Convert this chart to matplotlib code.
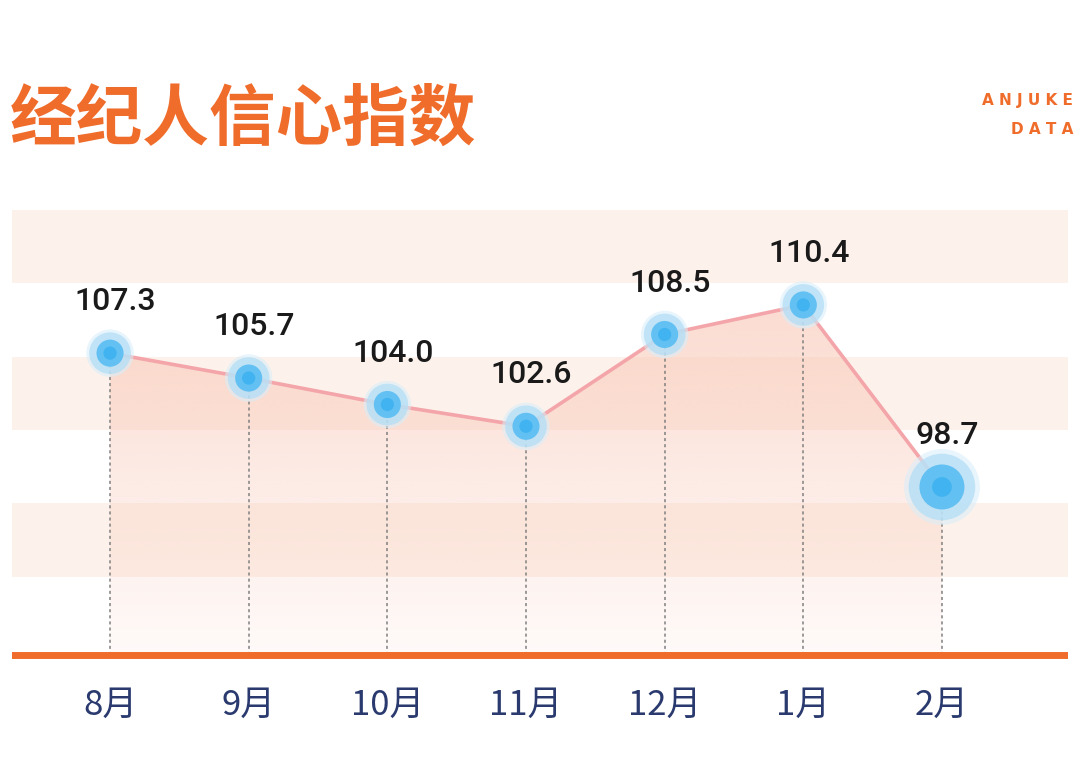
#   Broker confidence index (Anjuke data) - line chart with glow markers
import numpy as np
import matplotlib.pyplot as plt
from matplotlib.patches import Polygon

plt.rcParams['font.family'] = ['Noto Sans CJK SC', 'DejaVu Sans']

# data
months = ['8月', '9月', '10月', '11月', '12月', '1月', '2月']
index_values = [107.3, 105.7, 104.0, 102.6, 108.5, 110.4, 98.7]
value_labels = ['107.3', '105.7', '104.0', '102.6', '108.5', '110.4', '98.7']

orange = '#ef6c2b'
navy = '#2a3a6e'

fig = plt.figure(figsize=(10.8, 7.75), dpi=100)
fig.patch.set_facecolor('white')

ax = fig.add_axes([12 / 1080, 1 - 660 / 775, 1056 / 1080, 450 / 775])
ax.set_xlim(-0.707, 6.909)
ax.set_ylim(87.58, 116.5)
ax.axis('off')

x = np.arange(len(months))
y = np.array(index_values)

# striped background
edges = np.linspace(88.22, 116.5, 7)
for k in range(6):
    if k % 2 == 1:
        ax.axhspan(edges[k], edges[k + 1], color='#fdf2eb', zorder=0, lw=0)

# gradient fill under the line
base = 87.9
poly = Polygon(np.column_stack([np.r_[x[0], x, x[-1]], np.r_[base, y, base]]),
               closed=True, facecolor='none', edgecolor='none')
ax.add_patch(poly)
grad = np.zeros((256, 2, 4))
grad[..., 0] = 249 / 255
grad[..., 1] = 196 / 255
grad[..., 2] = 178 / 255
grad[..., 3] = np.linspace(0.6, 0.08, 256)[:, None]
im = ax.imshow(grad, extent=[x[0], x[-1], base, y.max()], origin='upper',
               aspect='auto', zorder=1, interpolation='bilinear')
im.set_clip_path(poly)

# dotted drop lines
for xi, yi in zip(x, y):
    ax.plot([xi, xi], [base, yi], color='#808080', lw=1.1,
            dashes=(2, 2), zorder=2)

# baseline
ax.axhline(base, color=orange, lw=5, zorder=3)

# line
ax.plot(x, y, color='#f3a5a9', lw=2.6, zorder=4)

# glow markers, the last one larger
halo = [900] * 6 + [2300]
mid = [380] * 6 + [1050]
core = [90] * 6 + [200]
ax.scatter(x, y, s=np.array(halo) * 1.3, color='#d8eefa', alpha=0.55, zorder=5, lw=0)
ax.scatter(x, y, s=halo, color='#b3def6', alpha=0.75, zorder=5, lw=0)
ax.scatter(x, y, s=mid, color='#62c0f2', zorder=6, lw=0)
ax.scatter(x, y, s=core, color='#40b3f0', zorder=7, lw=0)

# value labels
for xi, yi, lab in zip(x, y, value_labels):
    ax.annotate(lab, (xi, yi), xytext=(4, 37), textcoords='offset points',
                ha='center', va='center', fontsize=23, color='#1a1a1a',
                family=['Roboto', 'DejaVu Sans'], weight='medium', zorder=8)

# month labels
for xi, m in zip(x, months):
    ax.text(xi, -0.1, m, transform=ax.get_xaxis_transform(), ha='center',
            va='center', fontsize=25, color=navy, clip_on=False)

# title and brand
fig.text(10 / 1080, 1 - 120 / 775, '经纪人信心指数', fontsize=48, weight='black',
         color=orange, ha='left', va='center')
fig.text(1073 / 1080, 1 - 101 / 775, 'A N J U K E', fontsize=11, weight='bold',
         color=orange, ha='right', va='center', family=['DejaVu Sans'])
fig.text(1073 / 1080, 1 - 129 / 775, 'D A T A', fontsize=11, weight='bold',
         color=orange, ha='right', va='center', family=['DejaVu Sans'])

plt.savefig('out.png', dpi=100)
